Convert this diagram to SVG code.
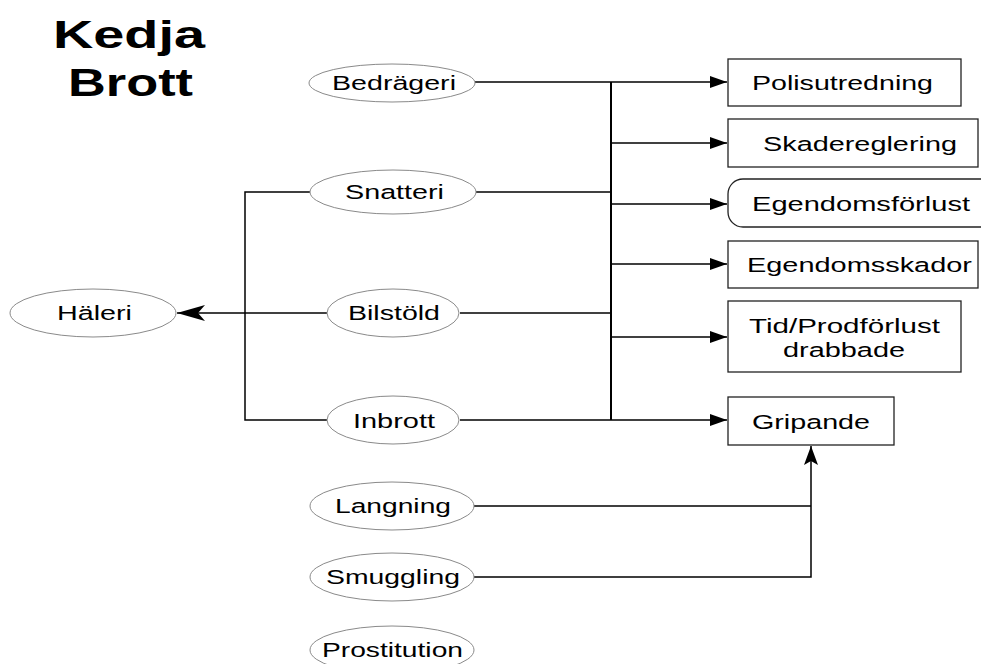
<svg xmlns="http://www.w3.org/2000/svg" width="981" height="664" viewBox="0 0 981 664">
<style>
.el{fill:#fff;stroke:#8a8a8a;stroke-width:1}
.bx{fill:#fff;stroke:#222;stroke-width:1.3}
.t{font-family:"Liberation Sans",Arial,sans-serif;font-size:20.5px;fill:#000}
.title{font-family:"Liberation Sans",Arial,sans-serif;font-size:39px;font-weight:bold;fill:#000}
.ln{fill:none;stroke:#000;stroke-width:1.5}
.bus{fill:none;stroke:#000;stroke-width:2}
</style>
<defs>
<marker id="tri" markerWidth="18" markerHeight="14" refX="17" refY="7" orient="auto" markerUnits="userSpaceOnUse">
<path d="M0,1 L17,7 L0,13 Z" fill="#000"/>
</marker>
<marker id="stealthBig" markerWidth="30" markerHeight="18" refX="28" refY="9" orient="auto" markerUnits="userSpaceOnUse">
<path d="M28,9 L0,1 L7,9 L0,17 Z" fill="#000"/>
</marker>
<marker id="stealthUp" markerWidth="20" markerHeight="16" refX="19" refY="8" orient="auto" markerUnits="userSpaceOnUse">
<path d="M19,8 L0,1 L4,8 L0,15 Z" fill="#000"/>
</marker>
</defs>

<g id="title">
<text class="title" x="53" y="48" textLength="152" lengthAdjust="spacingAndGlyphs">Kedja</text>
<text class="title" x="68" y="96" textLength="125" lengthAdjust="spacingAndGlyphs">Brott</text>
</g>

<g id="connectors">
<path class="bus" d="M611,82 V420"/>
<path class="ln" d="M475,82 H727" marker-end="url(#tri)"/>
<path class="ln" d="M611,143 H727" marker-end="url(#tri)"/>
<path class="ln" d="M611,204 H727" marker-end="url(#tri)"/>
<path class="ln" d="M611,264 H727" marker-end="url(#tri)"/>
<path class="ln" d="M611,337 H727" marker-end="url(#tri)"/>
<path class="ln" d="M460,420 H727" marker-end="url(#tri)"/>
<path class="ln" d="M476,192 H611"/>
<path class="ln" d="M460,313 H611"/>
<path class="ln" d="M310,192 H245 V420 H327"/>
<path class="ln" d="M327,313 H177" marker-end="url(#stealthBig)"/>
<path class="ln" d="M474,506 H811"/>
<path class="ln" d="M474,577 H811 V446" marker-end="url(#stealthUp)"/>
</g>

<g id="n-bedrageri"><ellipse class="el" cx="392" cy="83" rx="83" ry="19"/><text class="t" x="332" y="90" textLength="124" lengthAdjust="spacingAndGlyphs">Bedrägeri</text></g>
<g id="n-snatteri"><ellipse class="el" cx="393" cy="192" rx="83" ry="22"/><text class="t" x="345" y="199" textLength="99" lengthAdjust="spacingAndGlyphs">Snatteri</text></g>
<g id="n-haleri"><ellipse class="el" cx="93" cy="313" rx="83" ry="24"/><text class="t" x="57" y="320" textLength="75" lengthAdjust="spacingAndGlyphs">Häleri</text></g>
<g id="n-bilstold"><ellipse class="el" cx="393" cy="313" rx="66" ry="24"/><text class="t" x="348" y="320" textLength="92" lengthAdjust="spacingAndGlyphs">Bilstöld</text></g>
<g id="n-inbrott"><ellipse class="el" cx="393" cy="420" rx="66" ry="24"/><text class="t" x="353" y="428" textLength="82" lengthAdjust="spacingAndGlyphs">Inbrott</text></g>
<g id="n-langning"><ellipse class="el" cx="392" cy="506" rx="82" ry="24"/><text class="t" x="335" y="513" textLength="116" lengthAdjust="spacingAndGlyphs">Langning</text></g>
<g id="n-smuggling"><ellipse class="el" cx="392" cy="577" rx="82" ry="24"/><text class="t" x="326" y="584" textLength="134" lengthAdjust="spacingAndGlyphs">Smuggling</text></g>
<g id="n-prostitution"><ellipse class="el" cx="392" cy="650" rx="82" ry="24"/><text class="t" x="322" y="657" textLength="141" lengthAdjust="spacingAndGlyphs">Prostitution</text></g>

<g id="n-polisutredning"><rect class="bx" x="728" y="59" width="233" height="47"/><text class="t" x="752" y="90" textLength="181" lengthAdjust="spacingAndGlyphs">Polisutredning</text></g>
<g id="n-skadereglering"><rect class="bx" x="728" y="119" width="250" height="48"/><text class="t" x="763" y="151" textLength="194" lengthAdjust="spacingAndGlyphs">Skadereglering</text></g>
<g id="n-egendomsforlust"><rect class="bx" x="728" y="179" width="270" height="48" rx="15"/><text class="t" x="752" y="211" textLength="218" lengthAdjust="spacingAndGlyphs">Egendomsförlust</text></g>
<g id="n-egendomsskador"><rect class="bx" x="728" y="241" width="250" height="47"/><text class="t" x="747" y="272" textLength="225" lengthAdjust="spacingAndGlyphs">Egendomsskador</text></g>
<g id="n-tidprod"><rect class="bx" x="728" y="301" width="233" height="71"/><text class="t" x="749" y="333" textLength="191" lengthAdjust="spacingAndGlyphs">Tid/Prodförlust</text><text class="t" x="783" y="357" textLength="122" lengthAdjust="spacingAndGlyphs">drabbade</text></g>
<g id="n-gripande"><rect class="bx" x="728" y="397" width="166" height="48"/><text class="t" x="752" y="429" textLength="118" lengthAdjust="spacingAndGlyphs">Gripande</text></g>
</svg>
